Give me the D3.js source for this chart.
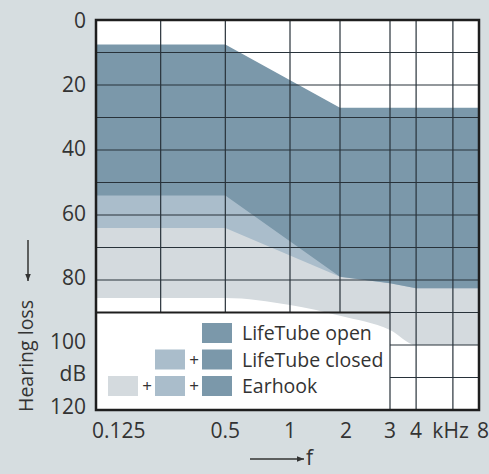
<!DOCTYPE html>
<html>
<head>
<meta charset="utf-8">
<script src="https://cdn.jsdelivr.net/npm/d3@7"></script>
<style>
  body { margin: 0; background: #d6dde0; }
  text { font-family: "Open Sans", sans-serif; fill: #333; }
</style>
</head>
<body>
<script>
var width = 489,
    height = 474;

// frequency in kHz, hearing loss in dB
var freqLabels = [0.125, 0.5, 1, 2, 3, 4, 8];
var gridFreqs = [0.25, 0.5, 1, 2, 3, 4, 6];
var dbTicks = [0, 20, 40, 60, 80, 100, 120];
var dbGrid = [10, 20, 30, 40, 50, 60, 70, 80, 90];
var dbGridRight = [100, 110];

// fitting ranges
var openTop = [[0.125, 7.5], [0.5, 7.5], [2, 27], [8, 27]];
var openBottom = [[0.125, 54], [0.5, 54], [2, 79], [3, 81], [4, 82.5], [8, 82.5]];
var closedBottom = [[0.125, 64], [0.5, 64], [2, 79], [3, 81], [4, 82.5], [8, 82.5]];
var earhookBottom = [[0.125, 85.5], [0.5, 85.5], [1, 87.7], [2, 91], [3, 95.4], [4, 100], [8, 100]];

var legendItems = ['LifeTube open', 'LifeTube closed', 'Earhook'];
var colors = ['#7b98aa', '#aabdcb', '#d4dade'];

// audiogram axis is not a clean log, so use a piecewise log scale
var x = d3.scaleLog()
    .domain([0.125, 1, 2, 3, 8])
    .range([96, 290, 340, 390, 479]);

var y = d3.scaleLinear()
    .domain([0, 120])
    .range([20, 410]);

var svg = d3.select('body')
    .append('svg')
    .attr('width', width)
    .attr('height', height);

svg.append('defs').append('clipPath')
    .attr('id', 'plot')
    .append('rect')
    .attr('x', x(0.125)).attr('y', y(0))
    .attr('width', x(8) - x(0.125))
    .attr('height', y(120) - y(0));

svg.append('rect')
    .attr('x', x(0.125)).attr('y', y(0))
    .attr('width', x(8) - x(0.125))
    .attr('height', y(120) - y(0))
    .attr('fill', '#fff');

// every band is drawn from the top down to its lower edge, widest first
var band = function(curve) {
    return d3.area()
        .x(function(d) { return x(d[0]); })
        .y0(y(0))
        .y1(function(d) { return y(d[1]); })
        .curve(curve);
};

var bands = svg.append('g').attr('clip-path', 'url(#plot)');

bands.append('path').datum(earhookBottom)
    .attr('d', band(d3.curveMonotoneX))
    .attr('fill', colors[2]);
bands.append('path').datum(closedBottom)
    .attr('d', band(d3.curveLinear))
    .attr('fill', colors[1]);
bands.append('path').datum(openBottom)
    .attr('d', band(d3.curveLinear))
    .attr('fill', colors[0]);
bands.append('path').datum(openTop)
    .attr('d', band(d3.curveLinear))
    .attr('fill', '#fff');

// grid
var grid = svg.append('g')
    .attr('stroke', '#28323a')
    .attr('stroke-width', 1.2);

grid.selectAll('.h').data(dbGrid)
    .enter().append('line')
    .attr('x1', x(0.125)).attr('x2', x(8))
    .attr('y1', function(d) { return y(d); })
    .attr('y2', function(d) { return y(d); });

grid.selectAll('.hr').data(dbGridRight)
    .enter().append('line')
    .attr('x1', x(3)).attr('x2', x(8))
    .attr('y1', function(d) { return y(d); })
    .attr('y2', function(d) { return y(d); });

grid.selectAll('.v').data(gridFreqs)
    .enter().append('line')
    .attr('x1', function(d) { return x(d); })
    .attr('x2', function(d) { return x(d); })
    .attr('y1', y(0))
    .attr('y2', function(d) { return d >= 3 ? y(120) : y(90); });

// top edge of the legend field
svg.append('line')
    .attr('x1', x(0.125)).attr('x2', x(3))
    .attr('y1', y(90)).attr('y2', y(90))
    .attr('stroke', '#1e1e1e')
    .attr('stroke-width', 2);

// frame
svg.append('rect')
    .attr('x', x(0.125)).attr('y', y(0))
    .attr('width', x(8) - x(0.125))
    .attr('height', y(120) - y(0))
    .attr('fill', 'none')
    .attr('stroke', '#1e1e1e')
    .attr('stroke-width', 2.5);

// y labels
svg.selectAll('.ylab').data(dbTicks)
    .enter().append('text')
    .attr('x', 86)
    .attr('y', function(d) { return y(d) - d / 30; })
    .attr('dy', '0.36em')
    .attr('text-anchor', 'end')
    .attr('font-size', 21)
    .text(function(d) { return d; });

svg.append('text')
    .attr('x', 86)
    .attr('y', y(110) - 4)
    .attr('dy', '0.36em')
    .attr('text-anchor', 'end')
    .attr('font-size', 21)
    .text('dB');

// x labels
svg.selectAll('.xlab').data(freqLabels)
    .enter().append('text')
    .attr('x', function(d) {
        if (d === 0.125) return x(d) - 4;
        if (d === 8) return x(d) + 4;
        if (d === 2) return x(d) + 6;
        return x(d);
    })
    .attr('y', 438)
    .attr('text-anchor', function(d) { return d === 0.125 ? 'start' : 'middle'; })
    .attr('font-size', 21)
    .text(function(d) { return d; });

svg.append('text')
    .attr('x', (x(4) + x(8)) / 2 + 3)
    .attr('y', 438)
    .attr('text-anchor', 'middle')
    .attr('font-size', 21)
    .text('kHz');

// axis titles with arrows
svg.append('defs').append('marker')
    .attr('id', 'arrow')
    .attr('viewBox', '0 0 10 10')
    .attr('refX', 10).attr('refY', 5)
    .attr('markerWidth', 5).attr('markerHeight', 5)
    .attr('orient', 'auto')
    .append('path')
    .attr('d', 'M0,1L10,5L0,9z')
    .attr('fill', '#333');

svg.append('line')
    .attr('x1', 28).attr('x2', 28)
    .attr('y1', 240).attr('y2', 281)
    .attr('stroke', '#333').attr('stroke-width', 1.5)
    .attr('marker-end', 'url(#arrow)');

svg.append('text')
    .attr('transform', 'translate(33,356) rotate(-90)')
    .attr('text-anchor', 'middle')
    .attr('font-size', 19.5)
    .text('Hearing loss');

svg.append('line')
    .attr('x1', 250).attr('x2', 304)
    .attr('y1', 459).attr('y2', 459)
    .attr('stroke', '#333').attr('stroke-width', 1.5)
    .attr('marker-end', 'url(#arrow)');

svg.append('text')
    .attr('x', 306).attr('y', 465)
    .attr('font-size', 21)
    .text('f');

// legend: each row adds one lighter swatch on the left
var legend = svg.append('g');

legendItems.forEach(function(name, i) {
    var top = 323 + i * 26.5;
    for (var c = 0; c <= i; c++) {
        legend.append('rect')
            .attr('x', 202 - c * 47).attr('y', top)
            .attr('width', 30).attr('height', 20)
            .attr('fill', colors[c]);
        if (c > 0) {
            legend.append('text')
                .attr('x', 202 - c * 47 + 39).attr('y', top + 10)
                .attr('dy', '0.36em')
                .attr('text-anchor', 'middle')
                .attr('font-size', 17)
                .text('+');
        }
    }
    legend.append('text')
        .attr('x', 242).attr('y', top + 10)
        .attr('dy', '0.36em')
        .attr('font-size', 19.5)
        .text(name);
});
</script>
</body>
</html>
